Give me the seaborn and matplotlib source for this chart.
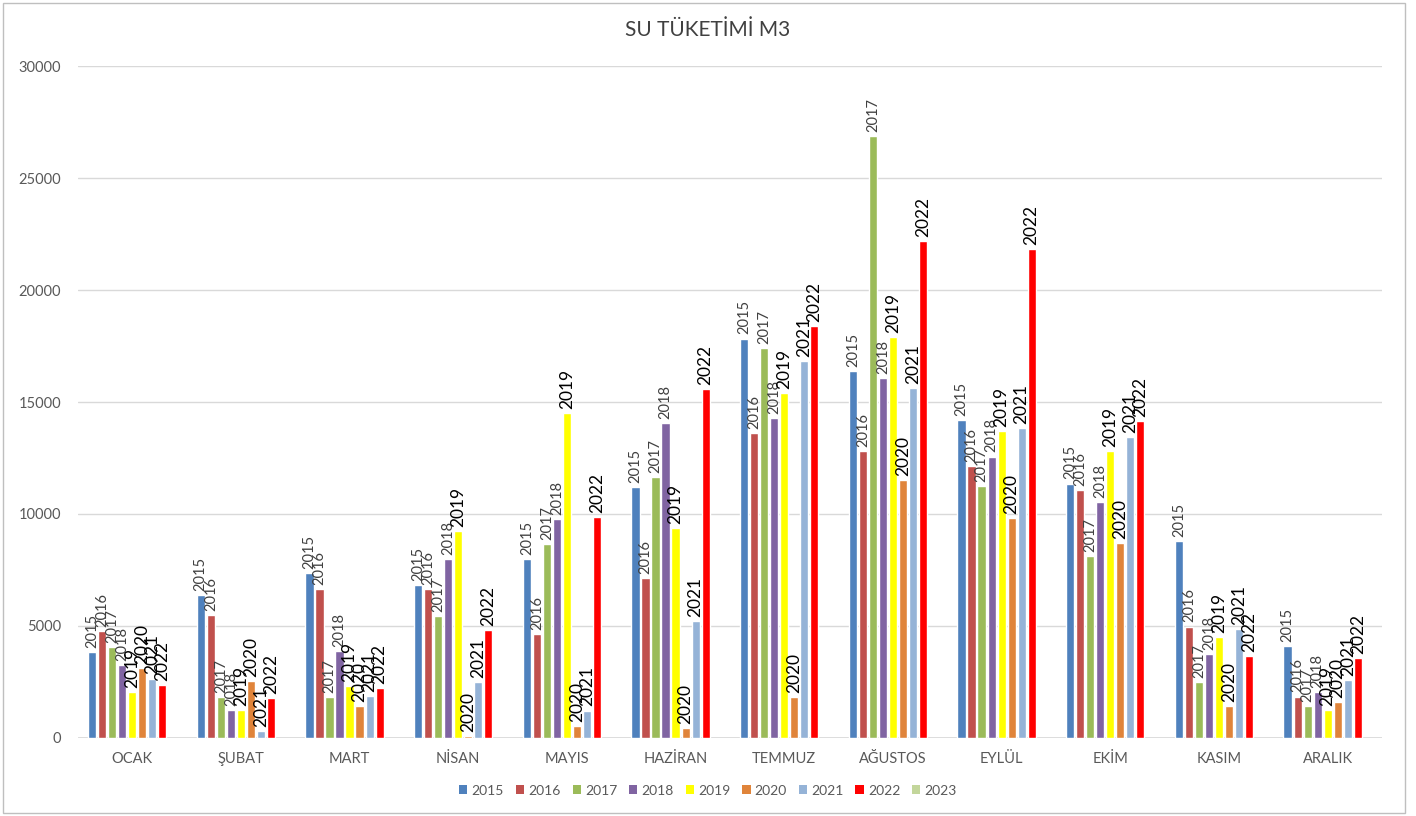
import pandas as pd
import numpy as np
import matplotlib.pyplot as plt
import seaborn as sns
from matplotlib.patches import Patch, Rectangle
from matplotlib.colors import to_hex

# Data
months = ['OCAK', 'ŞUBAT', 'MART', 'NİSAN', 'MAYIS', 'HAZİRAN',
          'TEMMUZ', 'AĞUSTOS', 'EYLÜL', 'EKİM', 'KASIM', 'ARALIK']
years = ['2015', '2016', '2017', '2018', '2019', '2020', '2021', '2022', '2023']

v2015 = [3850, 6370, 7370, 6830, 7975, 11200, 17830, 16380, 14195, 11355, 8795, 4105]
v2016 = [4780, 5490, 6650, 6650, 4640, 7140, 13615, 12810, 12155, 11070, 4970, 1845]
v2017 = [4060, 1815, 1830, 5445, 8660, 11650, 17400, 26870, 11250, 8110, 2485, 1415]
v2018 = [3260, 1250, 3880, 7975, 9790, 14060, 14285, 16060, 12560, 10550, 3735, 2055]
v2019 = [2050, 1250, 2320, 9240, 14490, 9375, 15400, 17915, 13720, 12810, 4495, 1250]
v2020 = [3125, 2530, 1430, 90, 535, 450, 1830, 11520, 9820, 8705, 1415, 1620]
v2021 = [2650, 310, 1875, 2500, 1220, 5220, 16840, 15625, 13840, 13435, 4865, 2600]
v2022 = [2350, 1770, 2230, 4800, 9865, 15580, 18390, 22170, 21830, 14150, 3660, 3560]

series = {'2015': v2015, '2016': v2016, '2017': v2017, '2018': v2018,
          '2019': v2019, '2020': v2020, '2021': v2021, '2022': v2022}

colors = ['#4F81BD', '#C0504D', '#9BBB59', '#8064A2', '#FFFF00',
          '#E0843A', '#95B3D7', '#FF0000', '#C3D69B']
palette = dict(zip(years, colors))

rows = []
for y, vals in series.items():
    for m, v in zip(months, vals):
        rows.append({'ay': m, 'yil': y, 'm3': v})
df = pd.DataFrame(rows)

sns.set_style('white')
plt.rcParams['font.family'] = ['Lato', 'DejaVu Sans']

fig = plt.figure(figsize=(14.16, 8.16), dpi=100)
ax = fig.add_axes([0.055, 0.0956, 0.921, 0.8235])

sns.barplot(data=df, x='ay', y='m3', hue='yil', order=months,
            hue_order=years, palette=palette, width=0.83, gap=0.18,
            saturation=1, errorbar=None, legend=False, ax=ax)

# year labels above each bar
color_to_year = {c.lower(): y for y, c in palette.items()}
for cont in ax.containers:
    if len(cont.patches) == 0:
        continue
    yr = color_to_year.get(to_hex(cont.patches[0].get_facecolor()).lower())
    if yr is None or yr == '2023':
        continue
    big = int(yr) >= 2019
    ax.bar_label(cont, labels=[yr] * len(cont.patches), rotation=90,
                 padding=3, fontsize=12.5 if big else 10.5,
                 color='black' if big else '#404040')

ax.set_ylim(0, 30000)
ax.set_yticks(range(0, 30001, 5000))
ax.set_xlim(-0.5, len(months) - 0.5)
ax.grid(axis='y', color='#D9D9D9', linewidth=1)
ax.set_axisbelow(True)
for s in ax.spines.values():
    s.set_visible(False)
ax.axhline(0, color='#D9D9D9', linewidth=1.2, zorder=0)
ax.tick_params(axis='both', length=0, labelsize=10.5, labelcolor='#595959')
ax.tick_params(axis='x', pad=10)
ax.tick_params(axis='y', pad=12)
ax.set_xlabel('')
ax.set_ylabel('')

fig.suptitle('SU TÜKETİMİ M3', y=0.975, fontsize=15, color='#404040')

handles = [Patch(facecolor=palette[y], edgecolor='none', label=y) for y in years]
fig.legend(handles=handles, loc='center', bbox_to_anchor=(0.5, 0.031),
           ncol=9, frameon=False, fontsize=10, handlelength=0.6,
           handleheight=0.6, handletextpad=0.3, columnspacing=0.85,
           labelcolor='#595959')

fig.patches.append(Rectangle((0.002, 0.004), 0.99, 0.992, transform=fig.transFigure,
                             fill=False, edgecolor='#BFBFBF', linewidth=1))

fig.savefig('out.png', dpi=100)
